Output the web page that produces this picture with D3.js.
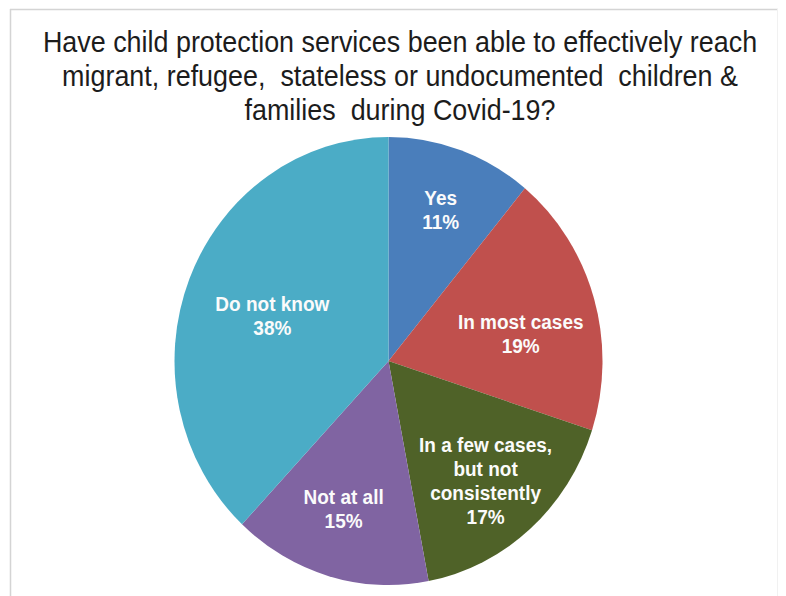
<!DOCTYPE html>
<html>
<head>
<meta charset="utf-8">
<script src="https://cdn.jsdelivr.net/npm/d3@7"></script>
<style>
  html, body { margin: 0; padding: 0; background: #fff; }
  svg { display: block; }
</style>
</head>
<body>
<svg id="chart" width="786" height="596"></svg>
<script>
// Survey responses
const categories = ["Yes", "In most cases", "In a few cases, but not consistently", "Not at all", "Do not know"];
const values = [11, 19, 17, 15, 38];
const labelLines = [
  ["Yes"],
  ["In most cases"],
  ["In a few cases,", "but not", "consistently"],
  ["Not at all"],
  ["Do not know"]
];
const colors = ["#4a7ebb", "#c0504d", "#4f6228", "#8064a2", "#4bacc6"];
const titleLines = [
  "Have child protection services been able to effectively reach",
  "migrant, refugee,  stateless or undocumented  children &",
  "families  during Covid-19?"
];

// label placement inside each slice (fraction of radius, angular nudge in degrees)
const labelRadius = [0.72, 0.63, 0.70, 0.69, 0.58];
const labelNudge = [0, 5, 1, 1.5, -1];

const svg = d3.select("#chart");
const W = 786, H = 596;

svg.append("rect").attr("width", W).attr("height", H).attr("fill", "#fff");

// frame
svg.append("line").attr("x1", 10).attr("y1", 9.5).attr("x2", 778).attr("y2", 9.5)
  .attr("stroke", "#d4d4d4").attr("stroke-width", 1.5);
svg.append("line").attr("x1", 10.5).attr("y1", 9).attr("x2", 10.5).attr("y2", H)
  .attr("stroke", "#d4d4d4").attr("stroke-width", 1.5);
svg.append("line").attr("x1", 777.5).attr("y1", 9).attr("x2", 777.5).attr("y2", H)
  .attr("stroke", "#f1f1f1").attr("stroke-width", 1);

// title
const title = svg.append("g")
  .attr("transform", "translate(400,0) scale(0.975,1.05)");
title.selectAll("text")
  .data(titleLines)
  .join("text")
  .attr("x", 0)
  .attr("y", (d, i) => 49.5 + i * 32.3)
  .attr("text-anchor", "middle")
  .attr("font-family", "'Liberation Sans', Arial, sans-serif")
  .attr("font-size", 27.6)
  .attr("fill", "#1c1c1c")
  .style("white-space", "pre")
  .text(d => d);

// pie
const cx = 388.5, cy = 361, r = 214, sy = 1.047;
const pie = d3.pie().sort(null).value(d => d);
const arcs = pie(values);
const arc = d3.arc().innerRadius(0).outerRadius(r);

const g = svg.append("g")
  .attr("transform", `translate(${cx},${cy}) scale(1,${sy})`);

g.selectAll("path")
  .data(arcs)
  .join("path")
  .attr("d", arc)
  .attr("fill", (d, i) => colors[i]);

// labels
const lineH = 24;
arcs.forEach((a, i) => {
  const ang = (a.startAngle + a.endAngle) / 2 + labelNudge[i] * Math.PI / 180;
  const rr = r * labelRadius[i];
  const x = rr * Math.sin(ang);
  const y = -rr * Math.cos(ang);
  const lines = labelLines[i].concat([values[i] + "%"]);
  const t = g.append("text")
    .attr("text-anchor", "middle")
    .attr("font-family", "'Liberation Sans', Arial, sans-serif")
    .attr("font-weight", "bold")
    .attr("font-size", 19)
    .attr("fill", "#fbfbfb");
  const y0 = y - (lines.length - 1) * lineH / 2 / sy;
  lines.forEach((ln, j) => {
    t.append("tspan")
      .attr("x", x)
      .attr("y", y0 + j * lineH / sy + 7)
      .text(ln);
  });
});
</script>
</body>
</html>
